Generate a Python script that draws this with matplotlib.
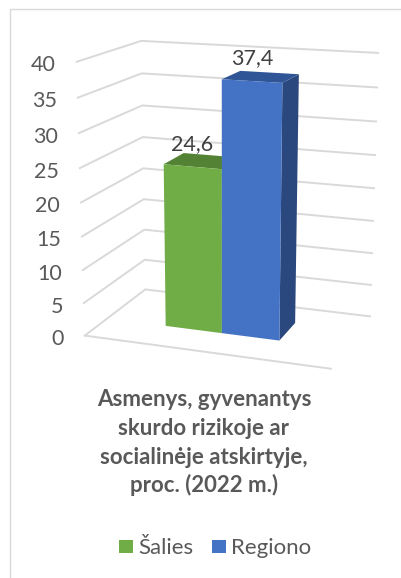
import numpy as np
import matplotlib
matplotlib.use("Agg")
import matplotlib.pyplot as plt
from matplotlib.patches import Polygon, Rectangle
from matplotlib.lines import Line2D

# ---------------- data ----------------
series_names = ["Šalies", "Regiono"]
values = [24.6, 37.4]
value_labels = ["24,6", "37,4"]
tick_values = [0, 5, 10, 15, 20, 25, 30, 35, 40]
tick_labels = ["0", "5", "10", "15", "20", "25", "30", "35", "40"]
title_lines = ["Asmenys, gyvenantys", "skurdo rizikoje ar",
               "socialinėje atskirtyje,", "proc. (2022 m.)"]

# ---------------- style ----------------
front_colors = ["#70AD47", "#4472C4"]
top_colors = ["#548235", "#2F5597"]
side_colors = ["#4E7A30", "#2A487D"]
grid_color = "#D9D9D9"
text_color = "#595959"
label_color = "#404040"
FONT = "Lato"
VMAX = 40.0

# ---------------- 3-D camera (fit to the chart's frame corners) ----------------
# world: u along category axis (0..1), w depth (0 front .. 1 back wall), h = value / VMAX
calib_world = np.array([
    (0, 1, 1.0), (0, 1, 35 / 40), (0, 1, 0.5), (0, 1, 0),
    (1, 1, 1.0), (1, 1, 35 / 40), (1, 1, 5 / 40), (1, 1, 0),
    (0, 0, 1.0), (0, 0, 35 / 40), (0, 0, 0.5), (0, 0, 0),
    (1, 0, 0)])
calib_px = np.array([
    (141.5, 41), (142, 73.3), (143, 168), (145, 290),
    (378, 52.7), (377, 87.7), (371, 285), (370, 316),
    (76.5, 61.7), (77.5, 97.7), (81, 203), (85, 335),
    (331, 369)]) / 400.0

rows = []
for (X, Y, Z), (x, y) in zip(calib_world, calib_px):
    rows.append([X, Y, Z, 1, 0, 0, 0, 0, -x * X, -x * Y, -x * Z, -x])
    rows.append([0, 0, 0, 0, X, Y, Z, 1, -y * X, -y * Y, -y * Z, -y])
_, _, vt = np.linalg.svd(np.array(rows, float))
P = vt[-1].reshape(3, 4)


def proj(u, w, v):
    p = P @ np.array([u, w, v / VMAX, 1.0])
    return p[0] / p[2] * 400.0, p[1] / p[2] * 400.0


# ---------------- figure ----------------
W, H = 401, 578
fig = plt.figure(figsize=(W / 100, H / 100), dpi=100)
ax = fig.add_axes([0, 0, 1, 1])
ax.set_xlim(0, W)
ax.set_ylim(H, 0)
ax.axis("off")

# chart frame (top and left edges visible)
ax.add_line(Line2D([9.5, 9.5, W], [H, 8.5, 8.5], color=grid_color, lw=1.0, zorder=1))

# gridlines on back wall and left side wall
for t in tick_values:
    a = proj(0, 0, t)
    b = proj(0, 1, t)
    c = proj(1, 1, t)
    ax.add_line(Line2D([a[0], b[0], c[0]], [a[1], b[1], c[1]],
                       color=grid_color, lw=1.4, solid_joinstyle="miter", zorder=2))
    ax.text(a[0] - 21, a[1] + 9.5, tick_labels[tick_values.index(t)],
            ha="right", va="baseline", fontsize=15.5, color=text_color, family=FONT)

# floor front edge
f0 = proj(0, 0, 0)
f1 = proj(1, 0, 0)
ax.add_line(Line2D([f0[0], f1[0]], [f0[1], f1[1]], color=grid_color, lw=1.4, zorder=2))

# bars
bar_u = [(0.257, 0.497), (0.497, 0.735)]
w0, w1 = 0.35, 0.70
for i, val in enumerate(values):
    ua, ub = bar_u[i]
    front = [proj(ua, w0, 0), proj(ub, w0, 0), proj(ub, w0, val), proj(ua, w0, val)]
    top = [proj(ua, w0, val), proj(ub, w0, val), proj(ub, w1, val), proj(ua, w1, val)]
    side = [proj(ub, w0, 0), proj(ub, w1, 0), proj(ub, w1, val), proj(ub, w0, val)]
    z = 3 + i
    ax.add_patch(Polygon(side, closed=True, fc=side_colors[i], ec="none", zorder=z))
    ax.add_patch(Polygon(top, closed=True, fc=top_colors[i], ec="none", zorder=z))
    ax.add_patch(Polygon(front, closed=True, fc=front_colors[i], ec="none", zorder=z))
    lx, ly = proj((ua + ub) / 2, w0, val)
    ax.text(lx, ly - 17, value_labels[i], ha="center", va="baseline",
            fontsize=15.5, color=label_color, family=FONT, zorder=10)

# title
title_base = [405.5, 435, 464, 492.5]
for line, yb in zip(title_lines, title_base):
    ax.text(204, yb, line, ha="center", va="baseline", fontsize=16,
            fontweight="bold", color=text_color, family=FONT)

# legend
leg_x = [119, 212]
for i, name in enumerate(series_names):
    ax.add_patch(Rectangle((leg_x[i], 540), 14, 13, fc=front_colors[i], ec="none"))
    ax.text(leg_x[i] + 19, 554, name, ha="left", va="baseline", fontsize=16,
            color=text_color, family=FONT)

fig.savefig("out.png", dpi=100)
